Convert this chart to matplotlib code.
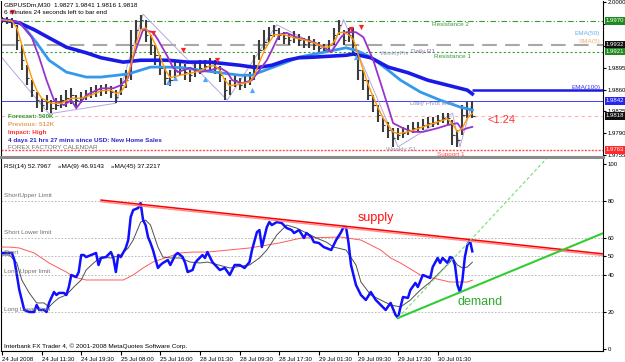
import numpy as np
import matplotlib
matplotlib.use("Agg")
import matplotlib.pyplot as plt
import matplotlib.transforms as mtransforms

plt.rcParams['font.family'] = ['Liberation Sans', 'DejaVu Sans']

# ---------------- data ----------------
time_labels = ["24 Jul 2008", "24 Jul 11:30", "24 Jul 19:30", "25 Jul 08:00", "25 Jul 16:00",
               "28 Jul 01:30", "28 Jul 09:30", "28 Jul 17:30", "29 Jul 01:30", "29 Jul 09:30",
               "29 Jul 17:30", "30 Jul 01:30"]
time_label_bars = [0, 16, 32, 48, 64, 80, 96, 112, 128, 144, 160, 176]

price_bars = list(range(0, 192, 2))
close = [1.9972, 1.9972, 1.9968, 1.9940, 1.9907, 1.9879, 1.9859, 1.9843, 1.9835, 1.9840,
         1.9830, 1.9835, 1.9843, 1.9846, 1.9851, 1.9843, 1.9848, 1.9851, 1.9856, 1.9856,
         1.9859, 1.9862, 1.9856, 1.9848, 1.9867, 1.9875, 1.9932, 1.9956, 1.9972, 1.9948,
         1.9932, 1.9915, 1.9895, 1.9879, 1.9875, 1.9891, 1.9895, 1.9888, 1.9883, 1.9891,
         1.9895, 1.9898, 1.9903, 1.9895, 1.9883, 1.9859, 1.9867, 1.9875, 1.9867, 1.9872,
         1.9879, 1.9899, 1.9923, 1.9936, 1.9948, 1.9956, 1.9948, 1.9943, 1.9940, 1.9944,
         1.9940, 1.9933, 1.9936, 1.9932, 1.9927, 1.9923, 1.9932, 1.9948, 1.9964, 1.9940,
         1.9948, 1.9932, 1.9891, 1.9875, 1.9851, 1.9835, 1.9819, 1.9803, 1.9795, 1.9782,
         1.9787, 1.9790, 1.9795, 1.9798, 1.9800, 1.9803, 1.9806, 1.9808, 1.9811, 1.9814,
         1.9814, 1.9787, 1.9779, 1.9819, 1.9830, 1.9818]
high = [1.9976, 1.9976, 1.9975, 1.9964, 1.9932, 1.9899, 1.9875, 1.9856, 1.9846, 1.9851,
        1.9843, 1.9846, 1.9851, 1.9859, 1.9862, 1.9851, 1.9856, 1.9859, 1.9864, 1.9867,
        1.9867, 1.9869, 1.9866, 1.9859, 1.9879, 1.9891, 1.9956, 1.9972, 1.9980, 1.9972,
        1.9948, 1.9932, 1.9915, 1.9895, 1.9891, 1.9904, 1.9907, 1.9901, 1.9895, 1.9903,
        1.9907, 1.9907, 1.9911, 1.9907, 1.9898, 1.9879, 1.9875, 1.9883, 1.9879, 1.9882,
        1.9888, 1.9915, 1.9940, 1.9956, 1.9960, 1.9964, 1.9959, 1.9952, 1.9949, 1.9954,
        1.9949, 1.9943, 1.9946, 1.9941, 1.9936, 1.9933, 1.9940, 1.9959, 1.9972, 1.9956,
        1.9959, 1.9959, 1.9923, 1.9891, 1.9875, 1.9851, 1.9835, 1.9814, 1.9808, 1.9798,
        1.9798, 1.9800, 1.9803, 1.9808, 1.9808, 1.9813, 1.9816, 1.9816, 1.9819, 1.9822,
        1.9822, 1.9811, 1.9795, 1.9835, 1.9840, 1.9841]
low = [1.9967, 1.9965, 1.9959, 1.9923, 1.9891, 1.9867, 1.9848, 1.9830, 1.9824, 1.9827,
       1.9822, 1.9827, 1.9830, 1.9832, 1.9837, 1.9830, 1.9838, 1.9843, 1.9846, 1.9848,
       1.9850, 1.9853, 1.9846, 1.9838, 1.9851, 1.9862, 1.9875, 1.9932, 1.9956, 1.9936,
       1.9915, 1.9899, 1.9883, 1.9867, 1.9866, 1.9879, 1.9883, 1.9875, 1.9872, 1.9880,
       1.9885, 1.9888, 1.9891, 1.9885, 1.9872, 1.9843, 1.9851, 1.9864, 1.9859, 1.9862,
       1.9867, 1.9875, 1.9907, 1.9923, 1.9936, 1.9944, 1.9940, 1.9933, 1.9932, 1.9935,
       1.9930, 1.9927, 1.9927, 1.9923, 1.9920, 1.9919, 1.9920, 1.9932, 1.9948, 1.9932,
       1.9936, 1.9915, 1.9875, 1.9859, 1.9843, 1.9824, 1.9808, 1.9792, 1.9782, 1.9768,
       1.9779, 1.9782, 1.9787, 1.9790, 1.9792, 1.9795, 1.9798, 1.9800, 1.9803, 1.9806,
       1.9803, 1.9771, 1.9768, 1.9787, 1.9814, 1.9814]

sma5_bar = [0, 4, 6, 8, 10, 12, 14, 16, 20, 24, 28, 32, 36, 40, 44, 46, 48, 50, 52, 54, 56, 58,
            60, 62, 64, 66, 68, 72, 76, 80, 84, 86, 88, 90, 92, 96, 100, 102, 104, 106, 108, 110,
            114, 118, 122, 126, 130, 132, 134, 136, 138, 140, 142, 144, 146, 148, 150, 152, 154,
            156, 158, 160, 164, 168, 172, 176, 180, 182, 184, 186, 188, 190]
sma5_val = [1.9972, 1.9970, 1.9959, 1.9932, 1.9904, 1.9879, 1.9859, 1.9846, 1.9838, 1.9838,
            1.9846, 1.9846, 1.9851, 1.9858, 1.9859, 1.9854, 1.9856, 1.9867, 1.9899, 1.9932,
            1.9956, 1.9959, 1.9948, 1.9932, 1.9911, 1.9891, 1.9879, 1.9883, 1.9886, 1.9890,
            1.9898, 1.9898, 1.9891, 1.9875, 1.9866, 1.9869, 1.9872, 1.9883, 1.9904, 1.9923,
            1.9936, 1.9948, 1.9948, 1.9943, 1.9940, 1.9935, 1.9928, 1.9928, 1.9936, 1.9951,
            1.9952, 1.9948, 1.9940, 1.9915, 1.9891, 1.9867, 1.9848, 1.9830, 1.9814, 1.9803,
            1.9792, 1.9789, 1.9792, 1.9797, 1.9803, 1.9808, 1.9813, 1.9805, 1.9792, 1.9798,
            1.9814, 1.9822]

slow_ma_bar = [0, 7, 12, 15, 18, 21, 25, 28, 30, 34, 40, 45, 48, 51, 53, 57, 61, 63, 67, 69,
               71, 76, 80, 84, 88, 91, 93, 97, 101, 104, 107, 109, 112, 115, 119, 126, 130, 133,
               137, 139, 143, 146, 150, 153, 156, 158, 162, 166, 170, 176, 180, 184, 186, 188, 190]
slow_ma_val = [1.9972, 1.9968, 1.9944, 1.9912, 1.9875, 1.9843, 1.9835, 1.9843, 1.9830, 1.9851,
               1.9862, 1.9862, 1.9867, 1.9879, 1.9912, 1.9956, 1.9952, 1.9940, 1.9912, 1.9896,
               1.9888, 1.9895, 1.9888, 1.9891, 1.9895, 1.9888, 1.9875, 1.9870, 1.9875, 1.9891,
               1.9907, 1.9923, 1.9948, 1.9951, 1.9944, 1.9936, 1.9928, 1.9920, 1.9944, 1.9952,
               1.9952, 1.9944, 1.9907, 1.9870, 1.9832, 1.9806, 1.9798, 1.9792, 1.9792, 1.9798,
               1.9803, 1.9806, 1.9795, 1.9798, 1.9800]

ema50_bar = [0, 7, 9, 14, 19, 26, 34, 40, 51, 60, 67, 73, 80, 88, 96, 101, 109, 115, 120, 129,
             139, 143, 149, 156, 161, 169, 177, 185, 190]
ema50_val = [1.9972, 1.9967, 1.9960, 1.9935, 1.9907, 1.9888, 1.9880, 1.9880, 1.9885, 1.9896,
             1.9896, 1.9895, 1.9891, 1.9887, 1.9883, 1.9883, 1.9895, 1.9904, 1.9912, 1.9919,
             1.9927, 1.9923, 1.9912, 1.9891, 1.9875, 1.9856, 1.9843, 1.9832, 1.9827]

ema100_bar = [0, 7, 13, 19, 26, 34, 40, 49, 56, 67, 75, 84, 96, 103, 109, 115, 120, 126, 139,
              142, 149, 156, 164, 172, 180, 188, 190]
ema100_val = [1.9972, 1.9967, 1.9956, 1.9943, 1.9928, 1.9919, 1.9911, 1.9904, 1.9907, 1.9907,
              1.9904, 1.9904, 1.9899, 1.9895, 1.9899, 1.9907, 1.9911, 1.9912, 1.9915, 1.9917,
              1.9911, 1.9896, 1.9887, 1.9875, 1.9867, 1.9859, 1.9853]
ema100_label_level = 1.9860

zigzag_bar = [0, 19, 46, 57, 91, 111, 133, 138, 160, 182, 185, 190]
zigzag_val = [1.9911, 1.9821, 1.9838, 1.9981, 1.9843, 1.9964, 1.9920, 1.9972, 1.9768, 1.9822,
              1.9768, 1.9840]

sell_arrow_bar = [4, 61, 73, 87, 141, 145]
sell_arrow_val = [1.9984, 1.9951, 1.9923, 1.9907, 1.9957, 1.9960]
buy_arrow_bar = [67, 70, 82, 101, 143]
buy_arrow_val = [1.9872, 1.9879, 1.9877, 1.9859, 1.9912]

resistance2 = 1.9970
sma_level = 1.9932
resistance1 = 1.9921
daily_pivot = 1.9842
bid_level = 1.9818
support1 = 1.9763
price_ticks = [1.9755, 1.9790, 1.9825, 1.9860, 1.9895, 1.9930, 1.9965, 2.0000]
hidden_price_ticks = [1.9930, 1.9965]

rsi_bar = [0, 4, 5, 7, 9, 11, 13, 14, 15, 17, 18, 19, 21, 22, 23, 25, 26, 27, 28, 30, 31, 32,
           33, 34, 36, 38, 39, 40, 42, 44, 45, 46, 47, 48, 50, 51, 52, 53, 55, 56, 57, 58, 59,
           60, 61, 63, 64, 65, 67, 68, 70, 71, 73, 74, 75, 77, 78, 79, 81, 82, 83, 85, 88, 90,
           92, 94, 96, 98, 100, 101, 103, 104, 105, 107, 108, 109, 111, 113, 115, 117, 118, 120,
           122, 123, 125, 126, 128, 130, 133, 135, 137, 138, 139, 140, 141, 143, 145, 147, 149,
           151, 153, 155, 157, 159, 160, 161, 162, 164, 165, 167, 168, 170, 172, 173, 174, 176,
           177, 178, 180, 181, 182, 183, 184, 185, 186, 187, 188, 189, 190]
rsi_val = [51.9, 51.9, 48.1, 31.9, 21.1, 20.0, 20.0, 23.8, 21.1, 21.1, 20.0, 24.9, 30.8, 29.2,
           30.3, 30.3, 29.2, 33.5, 40.0, 38.9, 41.6, 50.8, 50.8, 49.7, 50.8, 51.9, 45.4, 49.2,
           49.7, 52.4, 49.2, 41.6, 50.8, 49.7, 54.6, 58.9, 71.4, 75.1, 76.2, 78.9, 69.7, 67.0,
           60.5, 57.3, 53.5, 43.8, 45.4, 46.5, 48.1, 45.4, 50.8, 51.9, 49.7, 46.5, 41.6, 42.7,
           46.5, 48.1, 50.8, 49.2, 52.4, 47.0, 42.7, 43.8, 40.0, 45.4, 45.4, 43.8, 47.0, 53.5,
           63.2, 64.3, 55.1, 65.9, 68.6, 67.0, 68.6, 68.1, 65.4, 64.3, 62.7, 64.3, 60.0, 62.7,
           60.5, 57.8, 57.3, 55.1, 53.5, 58.9, 63.2, 65.9, 65.9, 57.3, 45.4, 34.6, 29.2, 26.5,
           30.8, 26.5, 23.8, 21.1, 24.9, 18.4, 16.8, 22.7, 28.1, 27.6, 31.9, 35.7, 33.5, 40.0,
           38.9, 38.4, 44.3, 49.2, 46.5, 49.2, 46.5, 49.7, 49.2, 45.4, 34.6, 30.8, 37.3, 49.7,
           56.2, 58.9, 52.8]

ma9_bar = [0, 3, 6, 8, 11, 14, 17, 19, 21, 23, 26, 29, 32, 34, 37, 40, 44, 48, 51, 53, 56, 58,
           60, 63, 65, 68, 72, 76, 80, 83, 92, 100, 104, 107, 111, 115, 119, 123, 127, 131, 134,
           139, 143, 145, 149, 153, 157, 161, 165, 169, 173, 177, 181, 182, 184, 186, 188, 190]
ma9_val = [50.8, 50.8, 46.5, 37.3, 30.3, 24.9, 24.9, 22.7, 25.4, 27.6, 29.2, 33.5, 37.3, 42.7,
           46.5, 49.7, 49.2, 50.8, 54.6, 58.9, 68.6, 69.7, 67.0, 55.1, 49.7, 49.2, 49.2, 47.0,
           46.5, 47.0, 43.8, 45.4, 49.2, 53.5, 61.6, 67.0, 65.4, 62.7, 60.0, 57.8, 55.1, 53.5,
           45.4, 36.2, 29.2, 26.5, 23.8, 22.7, 26.5, 31.9, 36.2, 41.6, 47.0, 49.2, 45.4, 43.8,
           44.3, 46.9]

ma45_bar = [0, 3, 7, 13, 19, 26, 29, 34, 42, 49, 53, 57, 61, 67, 72, 77, 83, 100, 112, 121,
            137, 145, 153, 157, 161, 169, 174, 181, 188, 190]
ma45_val = [55.1, 55.1, 54.6, 51.9, 46.5, 41.6, 38.9, 37.3, 37.3, 37.3, 40.0, 43.8, 47.0, 49.7,
            51.9, 52.4, 52.4, 54.6, 57.3, 60.0, 60.5, 58.9, 53.5, 49.2, 46.5, 40.0, 38.4, 36.2,
            36.2, 37.2]

rsi_levels = [80, 60, 50, 40, 20]
rsi_level_names = ["ShortUpper Limit", "Short Lower limit", "Short", "Long Upper limit",
                   "Long Lower limit"]
rsi_ticks = [0, 20, 40, 50, 60, 80, 100]

supply_bar = [40, 243]
supply_val = [80.5, 51.4]
demand_bar = [160, 243]
demand_val = [16.8, 62.7]
demand_fast_bar = [160, 220]
demand_fast_val = [16.8, 103.0]

# ---------------- figure ----------------
W, H = 625, 362
fig = plt.figure(figsize=(W / 100, H / 100), dpi=100)
fig.patch.set_facecolor('white')

ax1 = fig.add_axes([1 / W, 1 - 157 / H, 602 / W, 156 / H])
ax2 = fig.add_axes([1 / W, 11 / H, 602 / W, 192 / H])

XMIN, XMAX = -0.4, 242.8
for ax in (ax1, ax2):
    ax.set_xlim(XMIN, XMAX)
    ax.set_facecolor('white')
    ax.spines['top'].set_visible(False)
    for s in ('left', 'right', 'bottom'):
        ax.spines[s].set_color('black')
        ax.spines[s].set_linewidth(0.8)

ax1.set_ylim(1.97517, 2.00021)
ax2.set_ylim(-1.08, 102.7)

FS = 4.6
TFS = 4.3

# ---- price panel ----
ax1.axhline(resistance2, color='#3a9a3a', lw=0.8, ls=(0, (5, 2, 1, 2)))
ax1.axhline(sma_level, color='#a8a8a8', lw=1.5, ls=(0, (7, 4)))
ax1.axhline(resistance1, color='#3a9a3a', lw=0.8, ls=(0, (2, 2)))
ax1.axhline(daily_pivot, color='#4040ff', lw=0.7)
ax1.axhline(bid_level, color='#ffb0b0', lw=0.8, ls=(0, (3, 3)))
ax1.axhline(support1, color='#ff5050', lw=1.0, ls=(0, (1.5, 1)))
ax1.hlines(ema100_label_level, ema100_bar[-1], XMAX, color='#1a1ae6', lw=1.8)

ax1.plot(zigzag_bar, zigzag_val, color='#b4a8dc', lw=0.7, zorder=2)
ax1.vlines(price_bars, low, high, color='#3c3c3c', lw=1.5, zorder=3)
ax1.hlines(close, np.array(price_bars), np.array(price_bars) + 0.9, color='#3c3c3c', lw=0.8,
           zorder=3)
ax1.plot(ema50_bar, ema50_val, color='#3399ee', lw=2.0, zorder=4)
ax1.plot(ema100_bar, ema100_val, color='#1a1ae6', lw=2.6, zorder=4)
ax1.plot(slow_ma_bar, slow_ma_val, color='#9933cc', lw=1.3, zorder=5)
ax1.plot(sma5_bar, sma5_val, color='#ff9900', lw=1.0, zorder=5)
ax1.scatter(sell_arrow_bar, sell_arrow_val, marker='v', s=14, color='#ff2020', zorder=6,
            linewidths=0)
ax1.scatter(buy_arrow_bar, buy_arrow_val, marker='^', s=14, color='#4aa6ff', zorder=6,
            linewidths=0)

ax1.yaxis.tick_right()
ax1.set_yticks(price_ticks)
ax1.set_yticklabels(["" if v in hidden_price_ticks else f"{v:.4f}" for v in price_ticks])
ax1.tick_params(axis='y', labelsize=TFS, length=2, pad=1.5, colors='black')
ax1.set_xticks([])
ax1.spines['bottom'].set_color('#8c8c8c')
ax1.spines['bottom'].set_linewidth(2.2)

tr1 = mtransforms.blended_transform_factory(ax1.transAxes, ax1.transData)
boxes = [(resistance2, '#1f8a1f'), (sma_level, '#101010'), (resistance1, '#1f8a1f'),
         (daily_pivot, '#2626f0'), (bid_level, '#101010'), (support1, '#ff2a2a')]
for val, col in boxes:
    ax1.text(1.005, val, f"{val:.4f}", transform=tr1, fontsize=TFS, color='white', va='center',
             ha='left', clip_on=False, zorder=10,
             bbox=dict(boxstyle='square,pad=0.22', fc=col, ec='none'))


def px1(x, y):
    return (x - 1) / 602, (157 - y) / 156


def px2(x, y):
    return (x - 1) / 602, (351 - y) / 192


def t1(x, y, s, **kw):
    ax1.text(*px1(x, y), s, transform=ax1.transAxes, va='center', zorder=9, **kw)


def t2(x, y, s, **kw):
    ax2.text(*px2(x, y), s, transform=ax2.transAxes, va='center', zorder=9, **kw)


t1(4, 5, "GBPUSDm,M30  1.9827 1.9841 1.9816 1.9818", fontsize=FS, color='black')
t1(4, 13, "6 minutes 24 seconds left to bar end", fontsize=FS, color='black')
t1(8, 117, "Forecast: 500K", fontsize=FS, color='#2e9a2e', fontweight='bold')
t1(8, 125, "Previous: 512K", fontsize=FS, color='#e8a060', fontweight='bold')
t1(8, 133, "Impact: High", fontsize=FS, color='#ff3030', fontweight='bold')
t1(8, 141, "4 days 21 hrs 27 mins since USD: New Home Sales", fontsize=FS, color='#2828d0',
   fontweight='bold')
t1(8, 148, "FOREX FACTORY CALENDAR", fontsize=FS, color='#707070')
t1(600, 33, "EMA(50)", fontsize=FS, color='#6aaeea', ha='right')
t1(600, 42, "SMA(5)", fontsize=FS, color='#f0b070', ha='right')
t1(600, 88, "EMA(100)", fontsize=FS, color='#3535e0', ha='right')
t1(432, 25, "Resistance 2", fontsize=FS, color='#3c9a3c')
t1(434, 57, "Resistance 1", fontsize=FS, color='#3c9a3c')
t1(380, 53, "WeeklyPiv", fontsize=FS, color='#a0a0c0')
t1(411, 52, "Daily R1", fontsize=FS, color='#9070b0')
t1(410, 104, "Daily Pivot level", fontsize=FS, color='#9090c0')
t1(386, 150, "Weekly S1", fontsize=FS, color='#9898a8')
t1(437, 155, "Support 1", fontsize=FS, color='#ff5050')
t1(488, 120, "<1:24", fontsize=8, color='#ff3030')

# ---- RSI panel ----
for lv in rsi_levels:
    ax2.axhline(lv, color='#b0b0b0', lw=0.6, ls=(0, (2, 2)))
ax2.plot(ma45_bar, ma45_val, color='#ff5a5a', lw=0.7, zorder=3)
ax2.plot(ma9_bar, ma9_val, color='#505050', lw=0.7, zorder=3)
ax2.plot(rsi_bar, rsi_val, color='#1010ff', lw=1.8, zorder=4)
ax2.plot(supply_bar, np.array(supply_val) - 0.9, color='#ff8c8c', lw=1.0, zorder=5)
ax2.plot(supply_bar, supply_val, color='#ff0000', lw=1.1, zorder=5)
ax2.plot(demand_bar, demand_val, color='#33cc33', lw=1.5, zorder=5)
ax2.plot(demand_fast_bar, demand_fast_val, color='#77dd77', lw=0.8, ls=(0, (3, 2)), zorder=5)

ax2.yaxis.tick_right()
ax2.set_yticks(rsi_ticks)
ax2.set_yticklabels([str(v) for v in rsi_ticks])
ax2.tick_params(axis='y', labelsize=TFS, length=2, pad=1.5)
ax2.set_xticks(time_label_bars)
ax2.set_xticklabels(time_labels)
ax2.tick_params(axis='x', labelsize=TFS, length=3, pad=1)
for lab in ax2.get_xticklabels():
    lab.set_ha('left')

level_px = [195, 233, 252, 271, 309]
for name, py in zip(rsi_level_names, level_px):
    t2(4, py, name, fontsize=FS, color='#707070')
t2(4, 166, "RSI(14) 52.7967    \u00bbMA(9) 46.9143    \u00bbMA(45) 37.2217", fontsize=FS,
   color='black')
t2(4, 346, "Interbank FX Trader 4, \u00a9 2001-2008 MetaQuotes Software Corp.", fontsize=FS,
   color='black')
t2(358, 218, "supply", fontsize=9, color='#ff1010')
t2(458, 302, "demand", fontsize=9, color='#2eaa2e')

fig.savefig("out.png", dpi=100, facecolor='white')
